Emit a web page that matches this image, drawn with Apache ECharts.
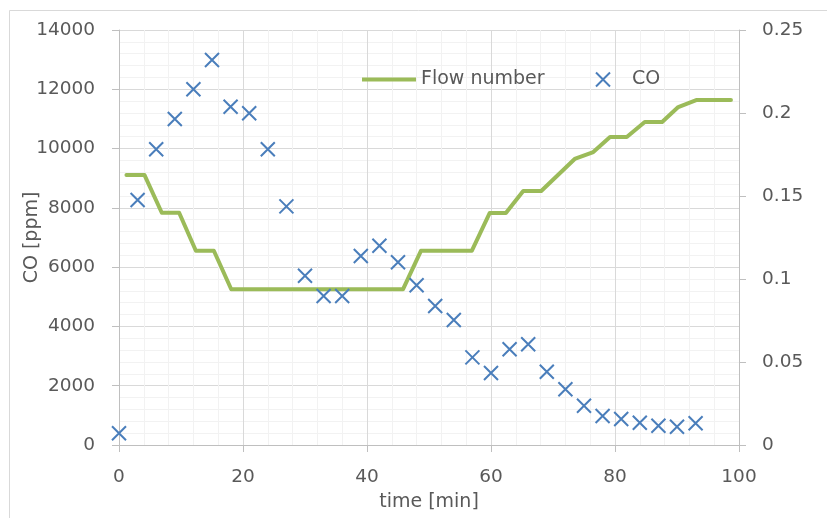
<!DOCTYPE html>
<html>
<head>
<meta charset="utf-8">
<script src="https://cdn.jsdelivr.net/npm/echarts@6/dist/echarts.min.js"></script>
<style>html,body{margin:0;padding:0;background:#fff;}#c{width:827px;height:518px;}</style>
</head>
<body>
<div id="c"></div>
<script>
// CO measurements (time [min], CO [ppm])
const coTimes = [0, 3, 6, 9, 12, 15, 18, 21, 24, 27, 30, 33, 36, 39, 42, 45, 48, 51, 54, 57, 60, 63, 66, 69, 72, 75, 78, 81, 84, 87, 90, 93];
const coValues = [394, 8265, 9975, 11000, 12000, 12990, 11410, 11190, 9975, 8050, 5710, 5026, 5026, 6376, 6724, 6163, 5387, 4689, 4217, 2955, 2430, 3228, 3397, 2473, 1879, 1326, 978, 877, 752, 651, 617, 732];
// Flow number (time [min], value on right axis)
const flowTimes = [1.2, 4.1, 6.9, 9.7, 12.4, 15.3, 18.1, 45.8, 48.7, 56.9, 59.8, 62.4, 65.2, 68.1, 73.5, 76.5, 79.2, 81.9, 84.8, 87.6, 90.2, 93.1, 98.7];
const flowValues = [0.1627, 0.1627, 0.1399, 0.1399, 0.117, 0.117, 0.0938, 0.0938, 0.117, 0.117, 0.1398, 0.1398, 0.153, 0.153, 0.1723, 0.1765, 0.1855, 0.1855, 0.1946, 0.1946, 0.2036, 0.2078, 0.2078];
// axis ticks
const xTicks = {min: 0, max: 100, interval: 20};
const yLeftTicks = {min: 0, max: 14000, interval: 2000};
const yRightTicks = {min: 0, max: 0.25, interval: 0.05};

const FONT = 'DejaVu Sans';
const TXT = '#595959';
const crossPath = 'path://M0,0L10,10M10,0L0,10';

const chart = echarts.init(document.getElementById('c'), null, {renderer: 'canvas'});
const axisLabelStyle = {color: TXT, fontFamily: FONT, fontSize: 18.5, formatter: v => String(v)};
chart.setOption({
  animation: false,
  backgroundColor: '#fff',
  graphic: [{
    type: 'rect', silent: true, z: -10,
    shape: {x: 9.5, y: 10.5, width: 830, height: 520},
    style: {fill: 'none', stroke: '#d9d9d9', lineWidth: 1}
  }],
  grid: {left: 119, right: 88, top: 30, bottom: 73, containLabel: false, outerBoundsMode: 'none'},
  legend: [{
    left: 362, top: 70, padding: 0, itemWidth: 54, itemHeight: 4, itemGap: 10,
    data: [{name: 'Flow number', icon: 'rect'}],
    textStyle: {color: TXT, fontFamily: FONT, fontSize: 19}
  }, {
    left: 595, top: 70, padding: 0, itemWidth: 14, itemHeight: 14,
    data: [{name: 'CO', icon: crossPath}],
    textStyle: {color: TXT, fontFamily: FONT, fontSize: 19, padding: [0, 0, 0, 17]}
  }],
  xAxis: {
    type: 'value', min: xTicks.min, max: xTicks.max, interval: xTicks.interval,
    name: 'time [min]', nameLocation: 'middle', nameGap: 48, nameMoveOverlap: false,
    nameTextStyle: {color: TXT, fontFamily: FONT, fontSize: 19},
    axisLine: {show: true, lineStyle: {color: '#bfbfbf', width: 1}},
    axisTick: {show: true, inside: false, length: 7, lineStyle: {color: '#bfbfbf'}},
    axisLabel: Object.assign({}, axisLabelStyle, {margin: 23}),
    splitLine: {show: true, lineStyle: {color: '#d9d9d9', width: 1}},
    minorTick: {show: false, splitNumber: 5},
    minorSplitLine: {show: true, lineStyle: {color: '#f2f2f2', width: 1}}
  },
  yAxis: [{
    type: 'value', position: 'left', min: yLeftTicks.min, max: yLeftTicks.max, interval: yLeftTicks.interval,
    name: 'CO [ppm]', nameLocation: 'middle', nameGap: 77, nameMoveOverlap: false,
    nameTextStyle: {color: TXT, fontFamily: FONT, fontSize: 19},
    axisLine: {show: true, lineStyle: {color: '#bfbfbf', width: 1}},
    axisTick: {show: true, inside: false, length: 7, lineStyle: {color: '#bfbfbf'}},
    axisLabel: Object.assign({}, axisLabelStyle, {margin: 24}),
    splitLine: {show: true, lineStyle: {color: '#d9d9d9', width: 1}},
    minorTick: {show: false, splitNumber: 5},
    minorSplitLine: {show: true, lineStyle: {color: '#f2f2f2', width: 1}}
  }, {
    type: 'value', position: 'right', min: yRightTicks.min, max: yRightTicks.max, interval: yRightTicks.interval,
    axisLine: {show: true, lineStyle: {color: '#bfbfbf', width: 1}},
    axisTick: {show: true, inside: false, length: 7, lineStyle: {color: '#bfbfbf'}},
    axisLabel: Object.assign({}, axisLabelStyle, {margin: 23}),
    splitLine: {show: false}
  }],
  series: [{
    name: 'Flow number', type: 'line', yAxisIndex: 1,
    data: flowTimes.map((t, i) => [t, flowValues[i]]),
    symbol: 'none', color: '#9BBB59',
    lineStyle: {color: '#9BBB59', width: 4, cap: 'round', join: 'round'},
    z: 2
  }, {
    name: 'CO', type: 'scatter', yAxisIndex: 0,
    data: coTimes.map((t, i) => [t, coValues[i]]),
    symbol: crossPath, symbolSize: 14,
    color: '#4472C4',
    itemStyle: {color: 'rgba(0,0,0,0)', borderColor: '#4a7ebb', borderWidth: 2, opacity: 1},
    z: 3
  }]
});
</script>
</body>
</html>
